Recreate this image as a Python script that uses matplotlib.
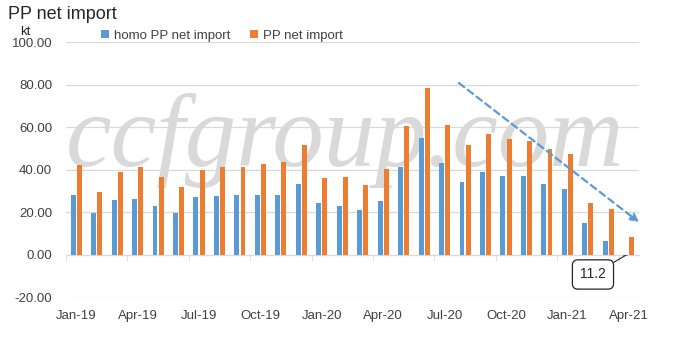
import matplotlib
matplotlib.use("Agg")
import matplotlib.pyplot as plt
import numpy as np

months = ["Jan-19","Feb-19","Mar-19","Apr-19","May-19","Jun-19","Jul-19","Aug-19","Sep-19","Oct-19","Nov-19","Dec-19",
          "Jan-20","Feb-20","Mar-20","Apr-20","May-20","Jun-20","Jul-20","Aug-20","Sep-20","Oct-20","Nov-20","Dec-20",
          "Jan-21","Feb-21","Mar-21","Apr-21"]
homo = [28.0, 19.5, 25.5, 26.0, 22.7, 19.5, 27.0, 27.5, 28.0, 28.0, 28.0, 33.0,
        24.2, 22.7, 20.9, 25.0, 41.2, 54.9, 42.9, 34.0, 38.7, 36.8, 36.8, 33.2,
        30.7, 14.8, 6.3, -0.8]
pp = [42.0, 29.5, 39.0, 41.0, 36.5, 32.0, 39.8, 41.0, 41.0, 42.5, 43.5, 51.5,
      36.0, 36.5, 32.7, 40.1, 60.4, 78.3, 60.8, 51.4, 56.6, 54.2, 53.6, 49.5,
      47.2, 24.2, 21.2, 8.2]
yticks = [-20, 0, 20, 40, 60, 80, 100]
trend_x = [18.7, 27.5]
trend_y = [80.7, 15.2]
callout_text = "11.2"

plt.rcParams['font.family'] = ['Liberation Sans', 'DejaVu Sans']
fig = plt.figure(figsize=(6.83, 3.38), dpi=100)
ax = fig.add_axes([0.0966, 0.1213, 0.839, 0.7544])
ax.set_zorder(1)

x = np.arange(len(months))
bw = 0.24
blue = "#5B9BD5"
orange = "#ED7D31"

# watermark
fig.text(0.505, 0.585, "ccfgroup.com", fontsize=74, family="Liberation Serif", style="italic",
         color="#d9d9d9", ha="center", va="center", zorder=-1)

ax.patch.set_alpha(0)
ax.bar(x - 0.15, homo, bw, color=blue, label="homo PP net import", zorder=3)
ax.bar(x + 0.15, pp, bw, color=orange, label="PP net import", zorder=3)

ax.set_xlim(-0.5, len(months) - 0.5)
ax.set_ylim(-20, 100)
ax.set_yticks(yticks)
ax.set_yticklabels([f"{v:.2f}" for v in yticks], fontsize=9.5, color="#404040")
ax.tick_params(axis='y', length=0, pad=10)
ax.grid(axis='y', color="#d9d9d9", linewidth=0.9, zorder=0)
for s in ["top", "right", "left"]:
    ax.spines[s].set_visible(False)
ax.spines["bottom"].set_position(("data", 0))
ax.spines["bottom"].set_color("#d9d9d9")
ax.spines["bottom"].set_zorder(2)

ax.set_xticks(x[::3])
ax.set_xticklabels(months[::3], fontsize=9.5, color="#404040")
ax.tick_params(axis='x', length=0, pad=40)
ax.set_xticks(x[::3] - 0.5, minor=True)
ax.tick_params(axis='x', which='minor', length=4, color="#d9d9d9", direction="out")

# trend arrow
ax.annotate("", xy=(trend_x[1], trend_y[1]), xytext=(trend_x[0], trend_y[0]),
            arrowprops=dict(arrowstyle="-|>", color=blue, lw=1.6, linestyle=(0, (3, 2)),
                            mutation_scale=12, shrinkA=0, shrinkB=0), zorder=4)

# callout
ax.annotate(callout_text, xy=(x[-1] - 0.15, -0.4), xytext=(25.25, -9.4),
            fontsize=10, ha="center", va="center", color="#262626",
            bbox=dict(boxstyle="round,pad=0.55,rounding_size=0.4", fc="white", ec="#262626", lw=0.9),
            arrowprops=dict(arrowstyle="-", color="#262626", lw=0.8, shrinkA=0, shrinkB=0), zorder=5)

fig.text(0.012, 0.958, "PP net import", fontsize=13, color="#262626", ha="left", va="center")
fig.text(0.029, 0.905, "kt", fontsize=9.5, color="#262626", ha="left", va="center")

ax.legend(loc="upper left", bbox_to_anchor=(0.04, 1.095), ncol=2, frameon=False, fontsize=9.5,
          handlelength=0.6, handleheight=0.6, handletextpad=0.4, columnspacing=1.5, labelcolor="#404040")

fig.savefig("out.png", dpi=100)
